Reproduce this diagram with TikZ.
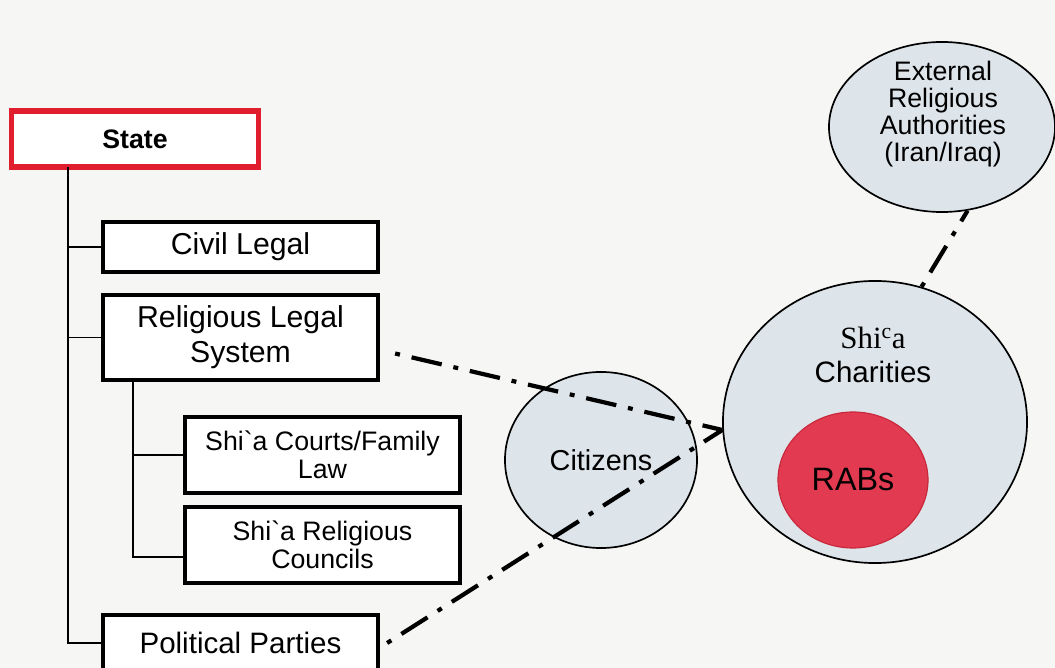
\documentclass[tikz,border=0pt]{standalone}
\usepackage{fontspec}
\newfontfamily\arialfont{Liberation Sans}
\newfontfamily\timesfont{Liberation Serif}
\usetikzlibrary{calc,shapes}
\definecolor{statered}{HTML}{E01E2E}
\definecolor{rabred}{HTML}{E23A50}
\definecolor{rabedge}{HTML}{C8283C}
\definecolor{bubble}{HTML}{DDE5EB}
\definecolor{paper}{HTML}{F6F6F4}

\begin{document}
\begin{tikzpicture}[x=0.025cm,y=-0.025cm,
	box/.style={draw,line width=3pt,fill=white,inner sep=0pt,align=center,
		minimum width=6.875cm,font=\arialfont\fontsize{21.5}{25}\selectfont},
	smallbox/.style={box,minimum height=1.9cm,font=\arialfont\fontsize{19}{20}\selectfont},
	tree/.style={line width=1.4pt},
	bubblenode/.style={ellipse,draw,line width=1.2pt,fill=bubble,inner sep=0pt,align=center},
	link/.style={line width=3pt,dash pattern=on 3.5pt off 8.5pt on 22pt off 8.5pt}]

		% page
		\clip (0,0) rectangle (1055,668);
		\fill [paper] (0,0) rectangle (1055,668);

		% State tree
		\node [box,draw=statered,line width=3.6pt,minimum width=6.15cm,minimum height=1.4cm,
			font=\arialfont\bfseries\fontsize{19}{20}\selectfont] (state) at (135,139) {State};
		\node [box,minimum height=1.25cm] (civil) at (240.5,247) {Civil Legal};
		\node [box,minimum height=2.125cm] (rls) at (240.5,337.5) {Religious Legal\\System};
		\node [smallbox] (courts) at (322.5,455) {Shi`a Courts/Family\\Law};
		\node [smallbox] (councils) at (322.5,545) {Shi`a Religious\\Councils};
		\node [box,minimum height=1.4cm,font=\arialfont\fontsize{21}{25}\selectfont] (pp) at (240.5,643) {Political Parties};

		\coordinate (trunk) at (68,167);
		\coordinate (subtrunk) at (133,380);

		\draw [tree] (trunk) |- (pp.west);
		\draw [tree] (trunk |- civil.west) -- (civil.west);
		\draw [tree] (trunk |- rls.west) -- (rls.west);
		\draw [tree] (subtrunk) |- ([yshift=-0.3cm]councils.west);
		\draw [tree] (subtrunk |- courts.west) -- (courts.west);

		% bubbles
		\node [bubblenode,minimum width=4.8cm,minimum height=4.4cm,
			font=\arialfont\fontsize{20.5}{22}\selectfont] (citizens) at (601,460) {Citizens};
		\node [bubblenode,minimum width=7.6cm,minimum height=7.05cm] (charities) at (875,422) {};
		\node [bubblenode,minimum width=5.65cm,minimum height=4.25cm] (external) at (942,127) {};
		\node [align=center,inner sep=0pt,font=\arialfont\fontsize{19}{19.2}\selectfont] (extlbl) at (943,114)
			{External\\Religious\\Authorities\\(Iran/Iraq)};
		\node [align=center,inner sep=0pt,font=\arialfont\fontsize{21}{24}\selectfont] (charlbl) at (873,355)
			{{\timesfont\fontsize{22}{24}\selectfont Shi\textsuperscript{c}a}\\Charities};
		\node [ellipse,draw=rabedge,line width=0.8pt,fill=rabred,inner sep=0pt,
			minimum width=3.75cm,minimum height=3.4cm,
			font=\arialfont\fontsize{23}{24}\selectfont] (rabs) at (853,480) {RABs};

		% links
		\draw [link] ([xshift=0.375cm,yshift=-0.4cm]rls.east) -- (charities.183);
		\draw [link] ([xshift=0.175cm]pp.east) -- (charities.183);
		\draw [link] (charities.71) -- (external.287);

\end{tikzpicture}
\end{document}
